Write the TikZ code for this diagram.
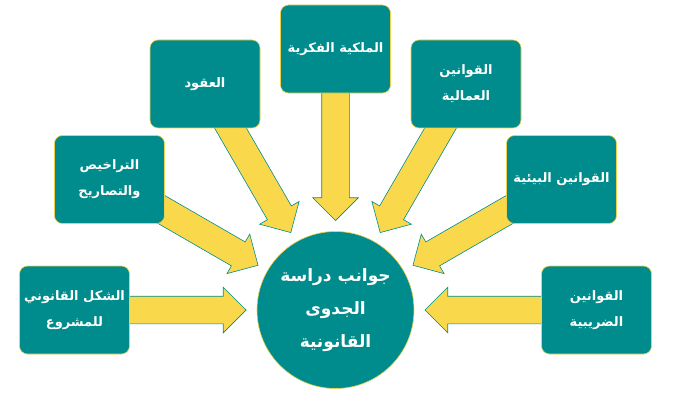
\documentclass[tikz,border=0pt]{standalone}
\usepackage{fontspec}
\newfontfamily\arabicfont[Script=Arabic]{DejaVu Sans}
\TeXXeTstate=1
\usetikzlibrary{shapes.arrows,calc,backgrounds}
\definecolor{tealbox}{HTML}{008C8C}
\definecolor{goldarrow}{HTML}{FAD84B}
\definecolor{goldline}{HTML}{F0D04A}
\tikzset{
  topic/.style={draw=goldline, line width=0.6pt, fill=tealbox, rounded corners=8pt,
    minimum width=110pt, minimum height=88pt, text=white, align=center,
    font=\arabicfont\bfseries\fontsize{13}{26}\selectfont},
  hub/.style={circle, draw=goldline, line width=0.6pt, fill=tealbox, minimum size=157pt,
    text=white, align=center, font=\arabicfont\bfseries\fontsize{17}{33}\selectfont},
  bigarrow/.style={single arrow, draw=tealbox, line width=0.6pt, fill=goldarrow,
    inner xsep=0pt, inner ysep=13.5pt, minimum width=45pt, minimum height=172pt,
    single arrow head extend=9pt, anchor=tip}
}
\begin{document}
\begin{tikzpicture}[x=1pt,y=1pt]
      \useasboundingbox (0,0) rectangle (675,400);
      \node[hub] (c) at (335.5,90) {\beginR جوانب دراسة\endR\\\beginR الجدوى\endR\\\beginR القانونية\endR};
      \node[topic] (b1) at ($(c)+(180:261pt)$) {\beginR الشكل القانوني\endR\\\beginR للمشروع\endR};
      \node[topic] (b2) at ($(c)+(150:261pt)$) {\beginR التراخيص\endR\\\beginR والتصاريح\endR};
      \node[topic] (b3) at ($(c)+(120:261pt)$) {\beginR العقود\endR};
      \node[topic] (b4) at ($(c)+(90:261pt)$) {\beginR الملكية الفكرية\endR};
      \node[topic] (b5) at ($(c)+(60:261pt)$) {\beginR القوانين\endR\\\beginR العمالية\endR};
      \node[topic] (b6) at ($(c)+(30:261pt)$) {\beginR القوانين البيئية\endR};
      \node[topic] (b7) at ($(c)+(0:261pt)$) {\beginR القوانين\endR\\\beginR الضريبية\endR};
      % arrows sit under the boxes
      \begin{scope}[on background layer]
        \node[bigarrow, rotate=0] at ($(c)!89pt!(b1)$) {};
        \node[bigarrow, rotate=-30] at ($(c)!89pt!(b2)$) {};
        \node[bigarrow, rotate=-60] at ($(c)!89pt!(b3)$) {};
        \node[bigarrow, rotate=-90] at ($(c)!89pt!(b4)$) {};
        \node[bigarrow, rotate=-120] at ($(c)!89pt!(b5)$) {};
        \node[bigarrow, rotate=-150] at ($(c)!89pt!(b6)$) {};
        \node[bigarrow, rotate=180] at ($(c)!89pt!(b7)$) {};
      \end{scope}
    \end{tikzpicture}
\end{document}
